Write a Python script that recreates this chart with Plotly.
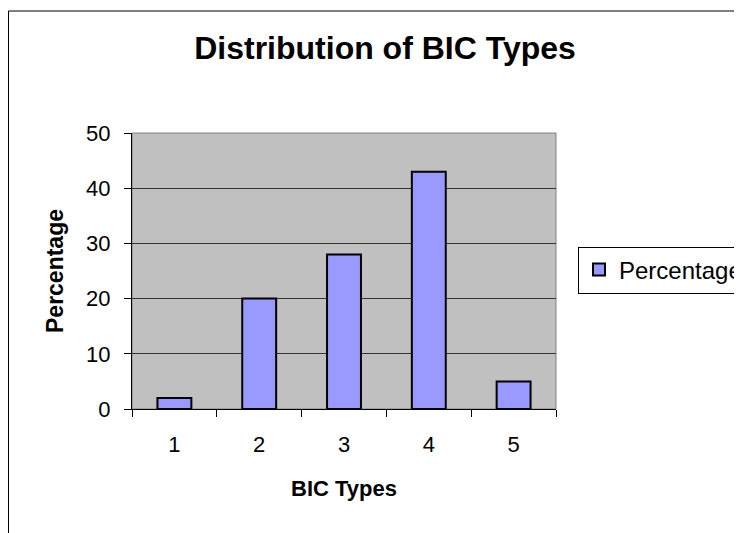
import plotly.graph_objects as go

categories = ["1", "2", "3", "4", "5"]
percentages = [2, 20, 28, 43, 5]
series_name = "Percentage"
y_ticks = [0, 10, 20, 30, 40, 50]

FONT = "Liberation Sans, Arial, sans-serif"

# page is offset by the 8px body margin; figure coords = page coords - 8
W, H = 734, 525
L, R, T, B = 124, 186, 125, 124
PW, PH = W - L - R, H - T - B

fig = go.Figure()
fig.add_trace(go.Bar(
    x=categories, y=percentages, name=series_name,
    marker=dict(color="#9999FF", line=dict(color="black", width=2)),
    showlegend=True,
))

fig.update_layout(
    width=W, height=H,
    margin=dict(l=L, r=R, t=T, b=B, autoexpand=False),
    paper_bgcolor="white", plot_bgcolor="#C0C0C0",
    bargap=0.6,
    font=dict(family=FONT, size=22, color="black"),
    title=dict(text="<b>Distribution of BIC Types</b>", x=377 / W, xanchor="center",
               y=1 - 40 / H, yanchor="middle", font=dict(size=32, family=FONT)),
    showlegend=True,
    legend=dict(x=(570 - L) / PW, xanchor="left", y=(T + PH - 262) / PH, yanchor="middle",
                bgcolor="white", bordercolor="black", borderwidth=1,
                font=dict(size=24, family=FONT)),
    xaxis=dict(type="category", tickson="boundaries", ticks="outside", ticklen=7,
               tickcolor="black", showline=True, linecolor="black", linewidth=1,
               showgrid=False, tickfont=dict(size=22), ticklabelstandoff=16,
               title=dict(text="<b>BIC Types</b>", standoff=24, font=dict(size=22))),
    yaxis=dict(range=[0, 50], tickvals=y_ticks, ticks="outside", ticklen=7,
               tickcolor="black", showline=True, linecolor="black", linewidth=1,
               showgrid=True, gridcolor="#333333", gridwidth=1, zeroline=False,
               tickfont=dict(size=22), ticklabelstandoff=9,
               title=dict(text="<b>Percentage</b>", standoff=16, font=dict(size=23))),
    shapes=[
        dict(type="rect", xref="paper", yref="paper", x0=0, x1=1, y0=0, y1=1,
             line=dict(color="#808080", width=1), layer="below"),
        dict(type="rect", xref="paper", yref="paper", x0=(0.5 - L) / PW, x1=2.0,
             y0=-1.0, y1=(T + PH - 3) / PH, line=dict(color="black", width=1)),
    ],
)

fig.write_html("out.html")
